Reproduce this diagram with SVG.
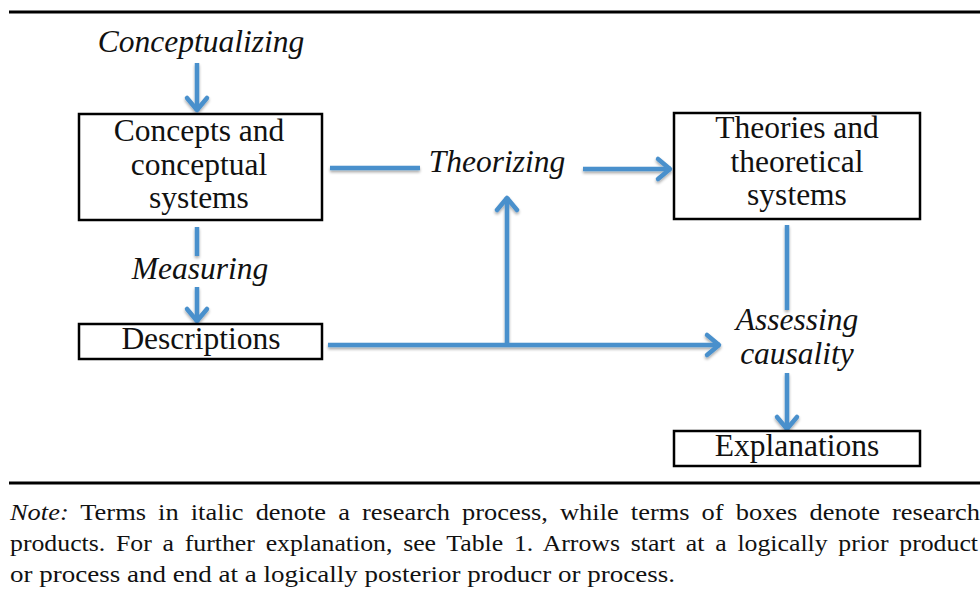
<svg xmlns="http://www.w3.org/2000/svg" width="980" height="604" viewBox="0 0 980 604">
<style>
.t{font-family:"Liberation Serif","Times New Roman",serif;font-size:31.5px;fill:#111;text-anchor:middle}
.i{font-style:italic}
.n{font-family:"Liberation Serif","Times New Roman",serif;font-size:24px;fill:#111}
.box{fill:#fff;stroke:#000;stroke-width:2.5}
.c{fill:none;stroke:#4a90cc;stroke-width:4.5}
.rule{stroke:#000;stroke-width:3}
</style>
<defs>
<filter id="sh" filterUnits="userSpaceOnUse" x="0" y="0" width="980" height="604">
<feGaussianBlur in="SourceAlpha" stdDeviation="1.5"/>
<feOffset dx="0" dy="2" result="b"/>
<feComponentTransfer><feFuncA type="linear" slope="0.35"/></feComponentTransfer>
<feMerge><feMergeNode/><feMergeNode in="SourceGraphic"/></feMerge>
</filter>
<marker id="ah" markerUnits="userSpaceOnUse" markerWidth="30" markerHeight="30" viewBox="-20 -15 30 30" refX="0" refY="0" orient="auto">
<path d="M-13,-10 L-1,0 L-13,10" fill="none" stroke="#4a90cc" stroke-width="4.5" stroke-linecap="round" stroke-linejoin="round"/>
</marker>
</defs>
<rect width="980" height="604" fill="#fff"/>
<line class="rule" x1="9" y1="12" x2="980" y2="12"/>
<line class="rule" x1="9" y1="483" x2="980" y2="483"/>
<g id="connectors" filter="url(#sh)">
<path class="c" d="M197,63 V111" marker-end="url(#ah)"/>
<path class="c" d="M197,227 V256"/>
<path class="c" d="M197,287 V322" marker-end="url(#ah)"/>
<path class="c" d="M330,168 H420"/>
<path class="c" d="M583,169 H671" marker-end="url(#ah)"/>
<path class="c" d="M328,345 H720" marker-end="url(#ah)"/>
<path class="c" d="M507,345 V197" marker-end="url(#ah)"/>
<path class="c" d="M787,225 V310"/>
<path class="c" d="M787,373 V430" marker-end="url(#ah)"/>
</g>
<g id="conceptualizing"><text class="t i" x="201" y="52">Conceptualizing</text></g>
<g id="concepts">
<rect class="box" x="79" y="114" width="243" height="106"/>
<text class="t" x="199" y="141">Concepts and</text>
<text class="t" x="199" y="175">conceptual</text>
<text class="t" x="199" y="208">systems</text>
</g>
<g id="theorizing"><text class="t i" x="497" y="172">Theorizing</text></g>
<g id="theories">
<rect class="box" x="674" y="113" width="246" height="106"/>
<text class="t" x="797" y="138">Theories and</text>
<text class="t" x="797" y="172">theoretical</text>
<text class="t" x="797" y="205">systems</text>
</g>
<g id="measuring"><text class="t i" x="200" y="279">Measuring</text></g>
<g id="descriptions">
<rect class="box" x="79" y="324" width="243" height="35"/>
<text class="t" x="201" y="349">Descriptions</text>
</g>
<g id="assessing">
<text class="t i" x="797" y="330">Assessing</text>
<text class="t i" x="797" y="364">causality</text>
</g>
<g id="explanations">
<rect class="box" x="674" y="431" width="246" height="35"/>
<text class="t" x="797" y="456">Explanations</text>
</g>
<g id="note">
<text class="n" x="10" y="520" word-spacing="5" textLength="970" lengthAdjust="spacingAndGlyphs"><tspan font-style="italic">Note:</tspan> Terms in italic denote a research process, while terms of boxes denote research</text>
<text class="n" x="10" y="551" word-spacing="4" textLength="968" lengthAdjust="spacingAndGlyphs">products. For a further explanation, see Table 1. Arrows start at a logically prior product</text>
<text class="n" x="10" y="582" textLength="665" lengthAdjust="spacingAndGlyphs">or process and end at a logically posterior producr or process.</text>
</g>
</svg>
